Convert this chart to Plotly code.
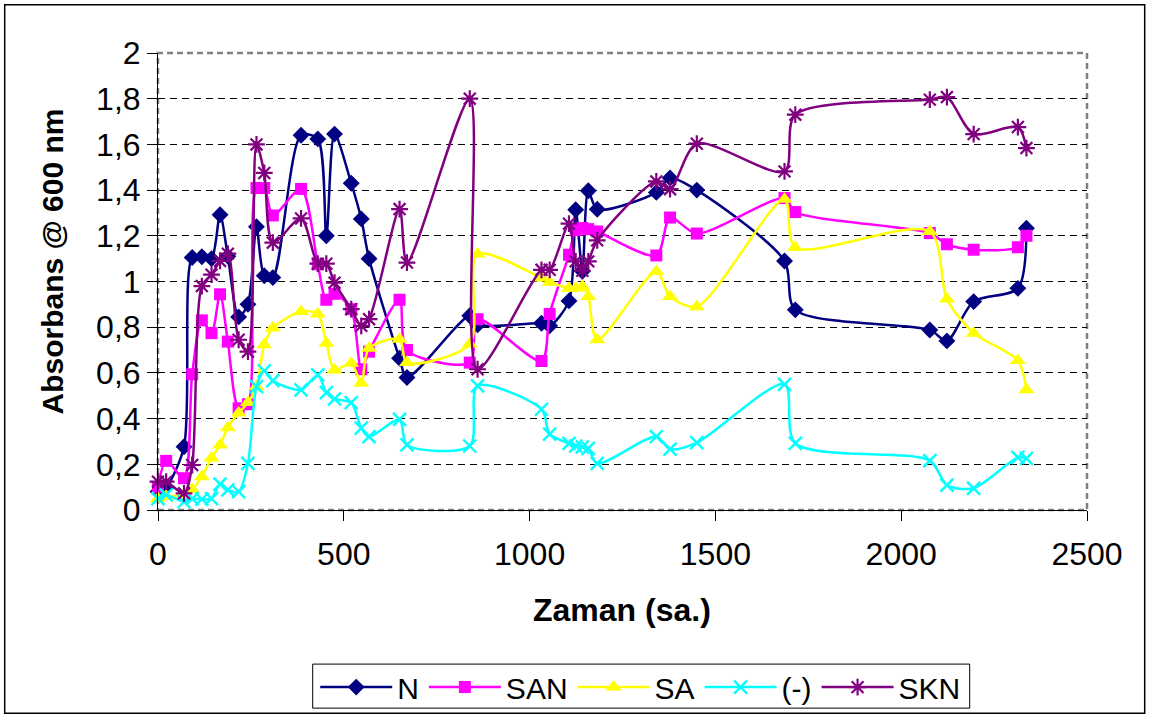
import plotly.graph_objects as go

# Time points (sa.)
t = [0, 22, 70, 92, 118, 144, 167, 188, 217, 242, 265, 286, 309, 385, 430, 453, 475,
     520, 547, 568, 650, 670, 839, 860, 1032, 1054, 1106, 1124, 1142, 1158, 1182,
     1341, 1378, 1450, 1686, 1715, 2077, 2123, 2195, 2314, 2337]

n_vals = [0.08, 0.10, 0.277, 1.105, 1.108, 1.10, 1.292, 1.11, 0.845, 0.90, 1.24, 1.025, 1.017,
          1.64, 1.624, 1.20, 1.645, 1.43, 1.274, 1.10, 0.664, 0.58, 0.85, 0.81, 0.817, 0.806,
          0.915, 1.314, 1.045, 1.397, 1.316, 1.39, 1.453, 1.40, 1.09, 0.876, 0.788, 0.74,
          0.912, 0.97, 1.233]

san_vals = [0.10, 0.215, 0.139, 0.594, 0.83, 0.774, 0.944, 0.737, 0.445, 0.463, 1.409, 1.409,
            1.289, 1.405, 1.075, 0.92, 0.946, 0.879, 0.616, 0.693, 0.92, 0.70, 0.645, 0.835,
            0.652, 0.858, 1.117, 1.225, 1.234, 1.229, 1.219, 1.114, 1.28, 1.21, 1.365, 1.304,
            1.212, 1.163, 1.139, 1.15, 1.20]

sa_vals = [0.05, 0.06, 0.066, 0.09, 0.146, 0.228, 0.285, 0.36, 0.425, 0.47, 0.54, 0.723, 0.796,
           0.869, 0.858, 0.73, 0.613, 0.642, 0.555, 0.708, 0.747, 0.645, 0.727, 1.12, 1.015,
           0.997, 0.971, 0.971, 0.978, 0.934, 0.745, 1.044, 0.934, 0.89, 1.36, 1.149, 1.219,
           0.923, 0.774, 0.654, 0.526]

neg_vals = [0.05, 0.066, 0.036, 0.05, 0.047, 0.05, 0.113, 0.088, 0.08, 0.204, 0.54, 0.609, 0.566,
            0.526, 0.591, 0.514, 0.486, 0.47, 0.358, 0.321, 0.397, 0.285, 0.28, 0.543, 0.441,
            0.332, 0.292, 0.28, 0.276, 0.27, 0.204, 0.321, 0.266, 0.295, 0.55, 0.292, 0.216,
            0.109, 0.095, 0.23, 0.226]

skn_vals = [0.124, 0.124, 0.073, 0.197, 0.98, 1.03, 1.09, 1.122, 0.745, 0.693, 1.6, 1.475, 1.17,
            1.276, 1.078, 1.078, 0.995, 0.879, 0.806, 0.835, 1.317, 1.083, 1.80, 0.616, 1.051,
            1.051, 1.253, 1.088, 1.047, 1.088, 1.18, 1.438, 1.404, 1.603, 1.482, 1.73, 1.796,
            1.807, 1.645, 1.676, 1.584]

series_names = ["N", "SAN", "SA", "(-)", "SKN"]
x_ticks = [0, 500, 1000, 1500, 2000, 2500]
x_ticktext = ["0", "500", "1000", "1500", "2000", "2500"]
y_ticks = [0, 0.2, 0.4, 0.6, 0.8, 1, 1.2, 1.4, 1.6, 1.8, 2]
y_ticktext = ["0", "0,2", "0,4", "0,6", "0,8", "1", "1,2", "1,4", "1,6", "1,8", "2"]

FONT = "Liberation Sans, Arial, sans-serif"

styles = [
    dict(color="#000080", symbol="diamond", size=13, lw=0),
    dict(color="#FF00FF", symbol="square", size=12, lw=0),
    dict(color="#FFFF00", symbol="triangle-up", size=14, lw=0),
    dict(color="#00FFFF", symbol="x-thin-open", size=13, lw=2.4),
    dict(color="#800080", symbol="asterisk-open", size=14, lw=2.2),
]
data = [n_vals, san_vals, sa_vals, neg_vals, skn_vals]

fig = go.Figure()
for name, vals, st in zip(series_names, data, styles):
    fig.add_trace(go.Scatter(
        x=t, y=vals, name=name, mode="lines+markers",
        line=dict(color=st["color"], width=2.5, shape="spline", smoothing=0.8),
        marker=dict(symbol=st["symbol"], size=st["size"], color=st["color"],
                    line=dict(color=st["color"], width=st["lw"])),
        cliponaxis=False,
    ))

PW = 929.0
PH = 456.7

fig.update_layout(
    width=1150, height=718,
    margin=dict(l=158, r=63, t=53, b=208, autoexpand=False),
    paper_bgcolor="white", plot_bgcolor="white",
    font=dict(family=FONT, size=32, color="black"),
    showlegend=True,
    legend=dict(orientation="h", x=(641 - 158.3) / PW, xanchor="center",
                y=-(687 - 510) / PH, yanchor="middle",
                bgcolor="rgba(0,0,0,0)", borderwidth=0, font=dict(size=30),
                itemwidth=72, tracegroupgap=0),
    xaxis=dict(range=[0, 2500], tickvals=x_ticks, ticktext=x_ticktext,
               ticks="outside", ticklen=10, tickcolor="black", tickwidth=1,
               ticklabelstandoff=6, automargin=False,
               showline=True, linecolor="black", linewidth=1, mirror=False,
               showgrid=False, zeroline=False),
    yaxis=dict(range=[0, 2], tickvals=y_ticks, ticktext=y_ticktext,
               ticks="outside", ticklen=10, tickcolor="black", tickwidth=1,
               automargin=False,
               showline=True, linecolor="black", linewidth=1,
               showgrid=True, gridcolor="black", gridwidth=1, griddash="7px,5px",
               zeroline=False),
    annotations=[
        dict(text="<b>Absorbans @ 600 nm</b>", xref="paper", yref="paper",
             x=(53 - 158.3) / PW, y=(510 - 262) / PH, textangle=-90,
             showarrow=False, font=dict(size=30, family=FONT),
             xanchor="center", yanchor="middle"),
        dict(text="<b>Zaman (sa.)</b>", xref="paper", yref="paper",
             x=(622 - 158.3) / PW, y=-(610 - 510) / PH,
             showarrow=False, font=dict(size=32, family=FONT),
             xanchor="center", yanchor="middle"),
    ],
    shapes=[
        dict(type="rect", xref="paper", yref="paper", x0=0, x1=1, y0=0, y1=1,
             line=dict(color="#808080", width=2.5, dash="6px,4px"), layer="below"),
        dict(type="rect", xref="paper", yref="paper",
             x0=(5 - 158.3) / PW, x1=(1145 - 158.3) / PW,
             y0=(510 - 713) / PH, y1=(510 - 5) / PH,
             line=dict(color="black", width=1.5)),
        # legend frame
        dict(type="rect", xref="paper", yref="paper",
             x0=(313 - 158.3) / PW, x1=(970 - 158.3) / PW,
             y0=-(708 - 510) / PH, y1=-(664 - 510) / PH,
             line=dict(color="black", width=1)),
    ],
)

fig.write_html("out.html")
